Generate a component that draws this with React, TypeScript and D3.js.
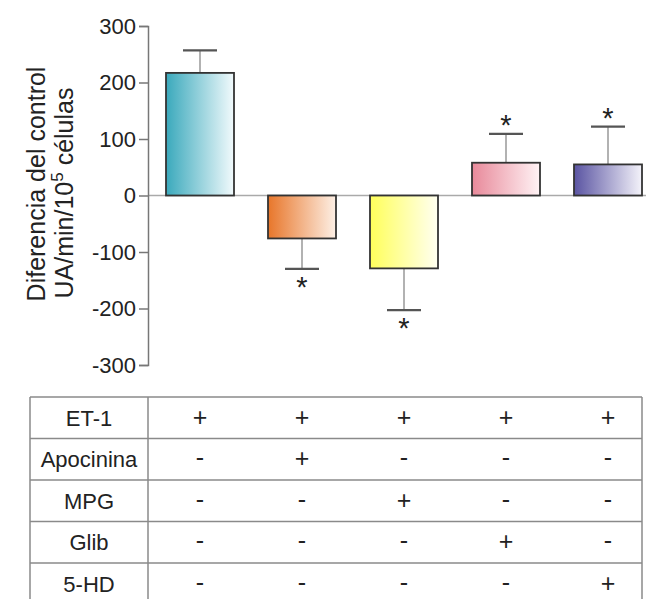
import React, { useEffect, useRef } from 'react';
import * as d3 from 'd3';

// groups (all get ET-1)
const groups = ['ET-1', 'ET-1+Apocinina', 'ET-1+MPG', 'ET-1+Glib', 'ET-1+5-HD'];
const means = [217, -76, -129, 58, 55];
const sems = [40, 54, 74, 51, 67];
const significant = [false, true, true, true, true];
const yTicks = [300, 200, 100, 0, -100, -200, -300];

const gradStart = ['#3aa9bc', '#e8762a', '#ffff5a', '#e8899a', '#5a54a2'];
const gradEnd = ['#f2fafc', '#fdf0e6', '#fffff2', '#fff3f5', '#f4f3fa'];

const rowLabels = ['ET-1', 'Apocinina', 'MPG', 'Glib', '5-HD'];
const treatments = [
  ['+', '+', '+', '+', '+'],
  ['-', '+', '-', '-', '-'],
  ['-', '-', '+', '-', '-'],
  ['-', '-', '-', '+', '-'],
  ['-', '-', '-', '-', '+'],
];

const FONT = 'Liberation Sans, Arial, Helvetica, sans-serif';

export default function App() {
  const svgRef = useRef<SVGSVGElement>(null);

  useEffect(() => {
    const width = 647;
    const height = 599;
    const svg = d3.select(svgRef.current);
    svg.attr('width', width).attr('height', height);
    svg.selectAll('*').remove();

    const axisX = 148;
    const y = d3.scaleLinear().domain([-300, 300]).range([365, 26]);
    const x = d3.scaleBand<string>()
      .domain(groups)
      .range([axisX + 1, axisX + 1 + 510])
      .paddingInner(1 / 3)
      .paddingOuter(1 / 6);

    const defs = svg.append('defs');
    groups.forEach((g, i) => {
      const lg = defs.append('linearGradient')
        .attr('id', `grad${i}`)
        .attr('x1', '0%').attr('x2', '100%')
        .attr('y1', '0%').attr('y2', '0%');
      lg.append('stop').attr('offset', '0%').attr('stop-color', gradStart[i]);
      lg.append('stop').attr('offset', '100%').attr('stop-color', gradEnd[i]);
    });

    // zero line
    svg.append('line')
      .attr('x1', axisX).attr('x2', 646)
      .attr('y1', y(0)).attr('y2', y(0))
      .attr('stroke', '#aaa').attr('stroke-width', 1.5);

    // y axis
    const axis = svg.append('g')
      .attr('transform', `translate(${axisX},0)`)
      .call(d3.axisLeft(y).tickValues(yTicks).tickSize(9).tickPadding(3).tickFormat(d => String(d)));
    axis.select('.domain').attr('stroke', '#777').attr('stroke-width', 1.5);
    axis.selectAll('.tick line').attr('stroke', '#777').attr('stroke-width', 1.5);
    axis.selectAll('.tick text')
      .attr('font-family', FONT)
      .attr('font-size', 22)
      .attr('fill', '#222');

    // y label
    svg.append('text')
      .attr('transform', `translate(45,184) rotate(-90)`)
      .attr('text-anchor', 'middle')
      .attr('font-family', FONT)
      .attr('font-size', 25)
      .attr('fill', '#222')
      .text('Diferencia del control');
    const l2 = svg.append('text')
      .attr('transform', `translate(73,193) rotate(-90)`)
      .attr('text-anchor', 'middle')
      .attr('font-family', FONT)
      .attr('font-size', 25)
      .attr('fill', '#222');
    l2.append('tspan').text('UA/min/10');
    l2.append('tspan').attr('dy', -10).attr('font-size', 17).text('5');
    l2.append('tspan').attr('dy', 10).text(' células');

    // bars
    groups.forEach((g, i) => {
      const x0 = x(g)!;
      const bw = x.bandwidth();
      const cx = x0 + bw / 2;
      const v = means[i];
      const top = Math.min(y(v), y(0));
      const h = Math.abs(y(v) - y(0));

      const errEnd = v >= 0 ? v + sems[i] : v - sems[i];
      // error whisker
      svg.append('line')
        .attr('x1', cx).attr('x2', cx)
        .attr('y1', y(v)).attr('y2', y(errEnd))
        .attr('stroke', '#999').attr('stroke-width', 1.5);
      svg.append('line')
        .attr('x1', cx - 17).attr('x2', cx + 17)
        .attr('y1', y(errEnd)).attr('y2', y(errEnd))
        .attr('stroke', '#555').attr('stroke-width', 2.2);

      svg.append('rect')
        .attr('x', x0).attr('y', top)
        .attr('width', bw).attr('height', h)
        .attr('fill', `url(#grad${i})`)
        .attr('stroke', '#333').attr('stroke-width', 1.8);

      if (significant[i]) {
        svg.append('text')
          .attr('x', cx)
          .attr('y', v >= 0 ? y(errEnd) + 1 : y(errEnd) + 28)
          .attr('text-anchor', 'middle')
          .attr('font-family', FONT)
          .attr('font-size', 29)
          .attr('fill', '#222')
          .text('*');
      }
    });

    // treatment table
    const tLeft = 30;
    const tRight = 642;
    const tTop = 397;
    const rowH = 41.5;
    const tb = svg.append('g');
    const lineColor = '#8a8a8a';
    tb.append('line').attr('x1', tLeft).attr('x2', tRight).attr('y1', tTop).attr('y2', tTop)
      .attr('stroke', lineColor).attr('stroke-width', 1.5);
    rowLabels.forEach((r, ri) => {
      const ry = tTop + rowH * (ri + 1);
      if (ri < rowLabels.length - 1) {
        tb.append('line').attr('x1', tLeft).attr('x2', tRight).attr('y1', ry).attr('y2', ry)
          .attr('stroke', lineColor).attr('stroke-width', 1.5);
      }
      const cy = tTop + rowH * ri + rowH / 2;
      tb.append('text')
        .attr('x', (tLeft + axisX) / 2)
        .attr('y', cy + 8)
        .attr('text-anchor', 'middle')
        .attr('font-family', FONT)
        .attr('font-size', 22)
        .attr('fill', '#222')
        .text(r);
      treatments[ri].forEach((s, ci) => {
        const cx = x(groups[ci])! + x.bandwidth() / 2;
        tb.append('text')
          .attr('x', cx)
          .attr('y', s === '+' ? cy + 8 : cy + 7)
          .attr('text-anchor', 'middle')
          .attr('font-family', FONT)
          .attr('font-size', 25)
          .attr('fill', '#222')
          .text(s);
      });
    });
    [tLeft, axisX, tRight].forEach(vx => {
      tb.append('line').attr('x1', vx).attr('x2', vx).attr('y1', tTop).attr('y2', height)
        .attr('stroke', lineColor).attr('stroke-width', 1.5);
    });
  }, []);

  return (
    <div style={{ position: 'absolute', left: 0, top: 0 }}>
      <svg ref={svgRef} style={{ display: 'block' }} />
    </div>
  );
}
